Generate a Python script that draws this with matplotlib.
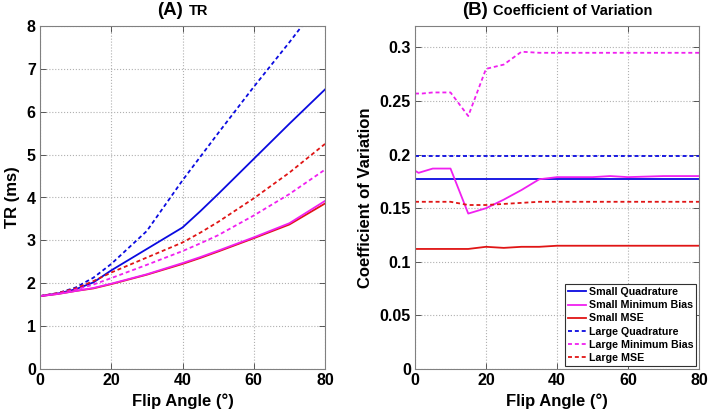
import matplotlib
matplotlib.use("Agg")
import matplotlib.pyplot as plt
from matplotlib.offsetbox import TextArea, HPacker, AnchoredOffsetbox

plt.rcParams['font.family'] = ['Liberation Sans', 'DejaVu Sans']
plt.rcParams['font.weight'] = 'bold'

# ---- Panel A: TR vs flip angle ----
fa = [0, 5, 10, 15, 20, 30, 40, 45, 50, 60, 70, 80]
tr_small_quad = [1.70, 1.76, 1.86, 2.02, 2.30, 2.80, 3.30, 3.68, 4.08, 4.90, 5.72, 6.52]
tr_small_minb = [1.70, 1.75, 1.82, 1.89, 1.99, 2.21, 2.47, 2.61, 2.76, 3.07, 3.40, 3.92]
tr_small_mse = [1.70, 1.75, 1.82, 1.88, 1.98, 2.20, 2.45, 2.59, 2.74, 3.05, 3.37, 3.86]
tr_large_quad = [1.70, 1.77, 1.90, 2.13, 2.45, 3.22, 4.40, 4.95, 5.50, 6.58, 7.62, 8.70]
tr_large_minb = [1.70, 1.76, 1.85, 1.97, 2.12, 2.43, 2.75, 2.93, 3.12, 3.58, 4.08, 4.65]
tr_large_mse = [1.70, 1.77, 1.88, 2.05, 2.25, 2.60, 2.95, 3.18, 3.43, 3.98, 4.58, 5.25]

# ---- Panel B: coefficient of variation ----
fa_b = [0, 1, 2, 5, 10, 15, 20, 25, 30, 35, 40, 50, 55, 60, 70, 80]
cv_small_quad = [0.177] * 16
cv_small_minb = [0.185, 0.183, 0.184, 0.187, 0.187, 0.145, 0.150, 0.158, 0.167, 0.177,
                 0.179, 0.179, 0.180, 0.179, 0.180, 0.180]
cv_small_mse = [0.112, 0.112, 0.112, 0.112, 0.112, 0.112, 0.114, 0.113, 0.114, 0.114,
                0.115, 0.115, 0.115, 0.115, 0.115, 0.115]
cv_large_quad = [0.199] * 16
cv_large_minb = [0.257, 0.257, 0.257, 0.258, 0.258, 0.236, 0.280, 0.284, 0.296, 0.295,
                 0.295, 0.295, 0.295, 0.295, 0.295, 0.295]
cv_large_mse = [0.156, 0.156, 0.156, 0.156, 0.156, 0.153, 0.153, 0.154, 0.155, 0.156,
                0.156, 0.156, 0.156, 0.156, 0.156, 0.156]

labels = ['Small Quadrature', 'Small Minimum Bias', 'Small MSE',
          'Large Quadrature', 'Large Minimum Bias', 'Large MSE']

BLUE = '#0a0ae0'
MAG = '#f020f0'
RED = '#e01515'
DASH = (0, (2.2, 1.6))
LW = 1.3

fig = plt.figure(figsize=(7.09, 4.11), dpi=100)
axA = fig.add_axes([40 / 709, 42 / 411, 285 / 709, 343 / 411])
axB = fig.add_axes([415 / 709, 42 / 411, 284 / 709, 343 / 411])


def style(ax):
    ax.grid(True, linestyle=':', color='#b0b0b0', linewidth=0.8)
    ax.tick_params(direction='in', top=True, right=True, length=4, width=0.6,
                   labelsize=11.5, pad=3, color='#404040')
    for lab in ax.get_xticklabels() + ax.get_yticklabels():
        lab.set_fontweight('bold')
    for s in ax.spines.values():
        s.set_color('#808080')
        s.set_linewidth(0.8)
    ax.set_axisbelow(True)


def title(ax, big, small):
    a = TextArea(big, textprops=dict(fontsize=13.5, fontweight='bold'))
    b = TextArea(small, textprops=dict(fontsize=10.5, fontweight='bold'))
    box = HPacker(children=[a, b], align='baseline', pad=0, sep=4)
    ab = AnchoredOffsetbox(loc='lower center', child=box, pad=0, frameon=False,
                           bbox_to_anchor=(0.5, 1.02), bbox_transform=ax.transAxes,
                           borderpad=0)
    ax.add_artist(ab)


series_A = [tr_small_quad, tr_small_minb, tr_small_mse, tr_large_quad, tr_large_minb, tr_large_mse]
series_B = [cv_small_quad, cv_small_minb, cv_small_mse, cv_large_quad, cv_large_minb, cv_large_mse]
colors = [BLUE, MAG, RED, BLUE, MAG, RED]
styles = ['-', '-', '-', DASH, DASH, DASH]
order = [3, 0, 5, 4, 2, 1]

for i in order:
    axA.plot(fa, series_A[i], color=colors[i], linestyle=styles[i], linewidth=LW)
for i in range(6):
    axB.plot(fa_b, series_B[i], color=colors[i], linestyle=styles[i], linewidth=LW,
             label=labels[i])

axA.set_xlim(0, 80)
axA.set_ylim(0, 8)
axA.set_xticks([0, 20, 40, 60, 80])
axA.set_yticks(range(0, 9))
axA.set_xlabel('Flip Angle (°)', fontsize=12, fontweight='bold', labelpad=4)
axA.set_ylabel('TR (ms)', fontsize=12, fontweight='bold', labelpad=5)
style(axA)
title(axA, '(A)', 'TR')

axB.set_xlim(0, 80)
axB.set_ylim(0, 0.32)
axB.set_xticks([0, 20, 40, 60, 80])
axB.set_yticks([0, 0.05, 0.1, 0.15, 0.2, 0.25, 0.3])
axB.set_yticklabels(['0', '0.05', '0.1', '0.15', '0.2', '0.25', '0.3'])
axB.set_xlabel('Flip Angle (°)', fontsize=12, fontweight='bold', labelpad=4)
axB.set_ylabel('Coefficient of Variation', fontsize=12, fontweight='bold', labelpad=5)
style(axB)
title(axB, '(B)', 'Coefficient of Variation')

leg = axB.legend(loc='lower right', fontsize=7.7, handlelength=1.7, handletextpad=0.2,
                 labelspacing=0.3, borderpad=0.3, borderaxespad=0.25, fancybox=False,
                 edgecolor='#303030', framealpha=1)
leg.get_frame().set_linewidth(0.8)
for t in leg.get_texts():
    t.set_fontweight('bold')

fig.savefig('out.png', dpi=100)
